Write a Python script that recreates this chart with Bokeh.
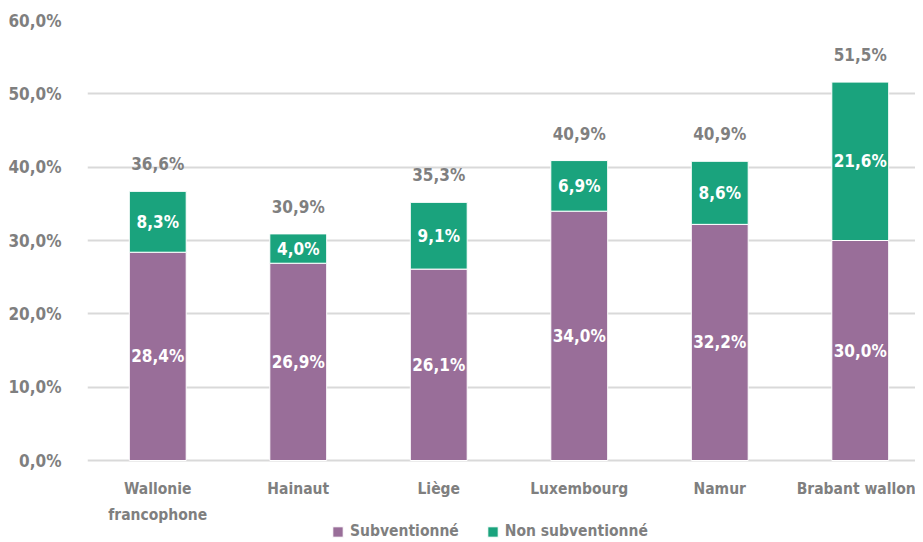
from bokeh.plotting import figure
from bokeh.models import ColumnDataSource, FixedTicker, Legend, LegendItem, Range1d
from bokeh.core.properties import value
from bokeh.embed import file_html
from bokeh.resources import INLINE

categories = ["Wallonie\nfrancophone", "Hainaut", "Liège", "Luxembourg", "Namur", "Brabant wallon"]
subventionne = [28.4, 26.9, 26.1, 34.0, 32.2, 30.0]
non_subventionne = [8.3, 4.0, 9.1, 6.9, 8.6, 21.6]
totaux = [36.6, 30.9, 35.3, 40.9, 40.9, 51.5]
y_ticks = [0, 10, 20, 30, 40, 50, 60]

FONT = "DejaVu Sans Condensed"
GRAY = "#7f7f7f"
PURPLE = "#996e99"
GREEN = "#1aa37d"

def fr(v):
    return f"{v:.1f}".replace(".", ",") + "%"

n = len(categories)
x = [i + 0.5 for i in range(n)]
top = [a + b for a, b in zip(subventionne, non_subventionne)]
src = ColumnDataSource(dict(
    x=x, sub=subventionne, non=non_subventionne, top=top,
    sub_mid=[a / 2 for a in subventionne],
    non_mid=[a + b / 2 for a, b in zip(subventionne, non_subventionne)],
    sub_lbl=[fr(v) for v in subventionne],
    non_lbl=[fr(v) for v in non_subventionne],
    tot=totaux, tot_lbl=[fr(v) for v in totaux],
    cat=categories, zero=[0] * n,
    cat_dx=[0] * (n - 1) + [-4],   # keep the last label inside the frame
))

LEFT = 87
PX_PER_UNIT = 440 / 60          # 60 % spans 440 px
BOTTOM_PX = 80                  # room below the 0 % line for labels & legend
FW, FH = 915 - LEFT, 440 + BOTTOM_PX
p = figure(frame_width=FW, frame_height=FH, output_backend="svg", toolbar_location=None,
           x_range=Range1d(0, FW / 140.5),
           y_range=Range1d(-BOTTOM_PX / PX_PER_UNIT, 60),
           min_border_left=LEFT, min_border_right=0, min_border_top=20, min_border_bottom=0)
p.outline_line_color = None
p.xaxis.visible = False

r1 = p.vbar(x="x", bottom=0, top="sub", width=0.405, source=src,
            fill_color=PURPLE, line_color="white", line_width=1)
r2 = p.vbar(x="x", bottom="sub", top="top", width=0.405, source=src,
            fill_color=GREEN, line_color="white", line_width=1)

LBL = "17px"
p.text(x="x", y="sub_mid", text="sub_lbl", source=src, text_color="white",
       text_font=value(FONT), text_font_style="bold", text_font_size=LBL,
       text_align="center", text_baseline="middle")
p.text(x="x", y="non_mid", text="non_lbl", source=src, text_color="white",
       text_font=value(FONT), text_font_style="bold", text_font_size=LBL,
       text_align="center", text_baseline="middle")
p.text(x="x", y="top", text="tot_lbl", source=src, text_color=GRAY,
       text_font=value(FONT), text_font_style="bold", text_font_size=LBL,
       text_align="center", text_baseline="middle", y_offset=-27)

# category labels under the bars
p.text(x="x", y="zero", text="cat", source=src, text_color=GRAY,
       text_font=value(FONT), text_font_style="bold", text_font_size="15.5px",
       text_align="center", text_baseline="top", y_offset=19, x_offset="cat_dx",
       text_line_height=1.45)

p.yaxis.ticker = FixedTicker(ticks=y_ticks)
p.yaxis.major_label_overrides = {t: fr(t) for t in y_ticks}
p.yaxis.axis_line_color = None
p.yaxis.major_tick_line_color = None
p.yaxis.minor_tick_line_color = None
p.yaxis.major_label_standoff = 20
p.yaxis.major_label_text_font = FONT
p.yaxis.major_label_text_font_style = "bold"
p.yaxis.major_label_text_font_size = "17px"
p.yaxis.major_label_text_color = GRAY

p.xgrid.grid_line_color = None
p.ygrid.grid_line_color = "#d9d9d9"
p.ygrid.grid_line_width = 2

legend = Legend(items=[LegendItem(label="Subventionné", renderers=[r1]),
                       LegendItem(label="Non subventionné", renderers=[r2])],
                orientation="horizontal", location=(244, 0),
                label_text_font=FONT, label_text_font_style="bold",
                label_text_font_size="15.5px", label_text_color=GRAY,
                label_height=16, glyph_width=13, glyph_height=13, spacing=27,
                padding=0, margin=0, border_line_color=None, label_standoff=6,
                background_fill_alpha=0)
p.add_layout(legend, "center")

open("out.html", "w").write(file_html(p, INLINE))
